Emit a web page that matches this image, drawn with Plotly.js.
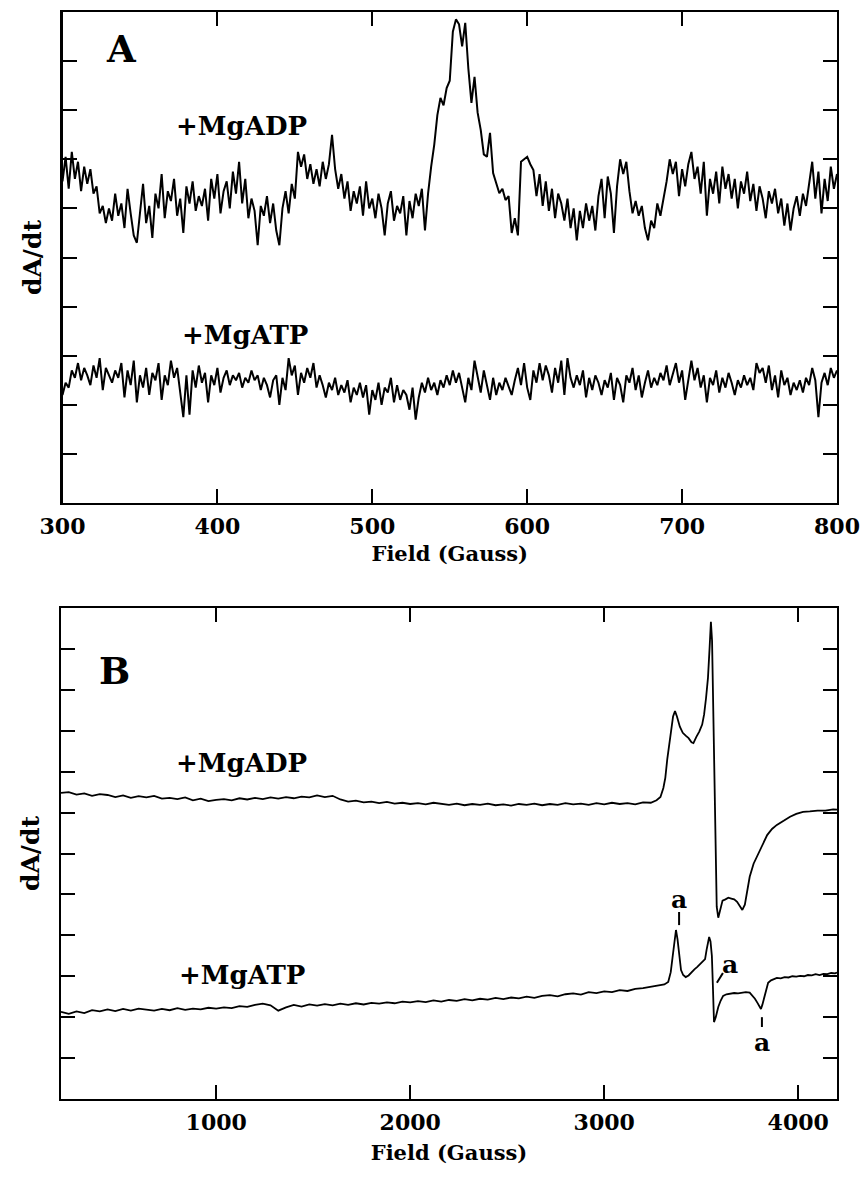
<!DOCTYPE html>
<html>
<head>
<meta charset="utf-8">
<script src="https://cdn.plot.ly/plotly-3.0.1.min.js"></script>
<style>html,body{margin:0;padding:0;background:#fff;}#chart{width:861px;height:1179px;}</style>
</head>
<body>
<div id="chart"></div>
<script>
// ---------- Panel A: field 300..800 G, sampled every 2 G ----------
const fieldA_start = 300;
const fieldA_step = 2;
const adpA = [
 6.55,7.05,6.40,7.15,6.60,6.95,6.35,6.85,6.50,6.80,
 6.30,6.45,5.90,6.05,5.70,6.00,5.75,6.30,5.85,6.10,
 5.60,6.40,5.90,5.45,5.30,5.95,6.50,5.70,6.05,5.40,
 6.30,6.00,6.70,5.80,6.35,6.15,6.60,5.85,6.20,5.50,
 6.45,6.10,6.55,5.95,6.25,6.05,6.40,5.75,6.60,6.20,
 6.70,5.90,6.35,6.55,6.00,6.75,6.30,6.95,6.10,6.60,
 5.80,6.20,5.95,5.25,6.05,5.85,6.25,5.70,6.10,5.55,
 5.25,6.00,6.35,5.90,6.50,6.20,7.15,6.85,7.10,6.60,
 6.90,6.50,6.80,6.45,6.95,6.60,6.90,7.50,6.80,6.40,
 6.70,6.20,6.55,5.95,6.35,6.10,6.45,5.85,6.55,6.00,
 6.20,5.80,6.30,6.00,5.45,6.10,6.35,5.75,6.05,5.90,
 6.25,5.45,6.15,5.80,6.30,6.05,6.40,5.55,6.30,6.85,
 7.30,7.90,8.25,8.10,8.45,8.60,9.60,9.85,9.75,9.30,
 9.78,8.85,8.15,8.68,7.95,7.60,7.10,7.05,7.54,6.72,
 6.50,6.31,6.40,6.17,6.25,5.50,5.80,5.45,6.95,7.00,
 7.05,6.90,6.78,6.25,6.70,6.05,6.55,5.95,6.40,5.80,
 6.30,6.10,5.75,6.20,5.60,6.00,5.35,5.95,5.60,6.10,
 5.75,6.05,5.55,6.25,6.60,5.80,6.65,6.30,5.50,6.45,
 7.00,6.70,6.95,6.35,5.90,6.15,5.85,6.05,5.60,5.35,
 5.75,5.60,6.10,5.85,6.20,6.55,7.00,6.70,6.95,6.25,
 6.80,6.45,6.90,7.15,6.60,6.85,6.30,6.95,5.85,6.60,
 6.30,6.75,6.10,6.85,6.40,6.70,6.20,6.60,6.00,6.55,
 6.30,6.75,6.15,6.50,5.95,6.45,6.20,5.80,6.35,6.10,
 6.40,5.90,6.20,5.65,6.10,5.55,6.00,6.25,5.85,6.30,
 6.05,6.50,6.95,6.20,6.75,5.90,6.60,6.15,6.85,6.40,
 6.70
];
const atpA = [
 2.20,2.45,2.35,2.70,2.55,2.85,2.50,2.75,2.60,2.40,
 2.80,2.55,2.95,2.30,2.75,2.60,2.45,2.70,2.55,2.85,
 2.15,2.70,2.40,2.90,2.05,2.60,2.35,2.75,2.20,2.65,
 2.50,2.85,2.10,2.60,2.40,2.90,2.55,2.75,2.30,1.75,
 2.60,1.80,2.70,2.35,2.80,2.45,2.65,2.05,2.60,2.40,
 2.75,2.25,2.55,2.70,2.40,2.60,2.50,2.65,2.35,2.55,
 2.45,2.70,2.50,2.60,2.30,2.55,2.40,2.15,2.50,2.60,
 2.00,2.55,2.30,2.95,2.60,2.80,2.20,2.65,2.45,2.75,
 2.55,2.85,2.35,2.60,2.40,2.15,2.45,2.30,2.55,2.20,
 2.40,2.25,2.50,2.05,2.35,2.20,2.45,2.15,2.40,1.80,
 2.30,2.10,2.45,2.00,2.35,2.25,2.55,2.05,2.40,2.10,
 2.30,2.20,1.90,2.35,1.70,2.15,2.45,2.25,2.55,2.30,
 2.45,2.20,2.50,2.35,2.60,2.40,2.70,2.45,2.65,2.35,
 2.05,2.55,2.30,2.90,2.60,2.25,2.70,2.40,2.10,2.55,
 2.20,2.45,2.30,2.55,2.35,2.20,2.50,2.75,2.40,2.85,
 2.35,2.10,2.70,2.45,2.85,2.50,2.80,2.60,2.25,2.75,
 2.45,2.90,2.20,2.95,2.55,2.35,2.60,2.40,2.70,2.15,
 2.55,2.30,2.60,2.45,2.20,2.50,2.35,2.65,2.10,2.55,
 2.40,2.05,2.60,2.45,2.75,2.30,2.60,2.15,2.45,2.70,
 2.35,2.55,2.40,2.65,2.50,2.80,2.40,2.60,2.85,2.45,
 2.70,2.10,2.55,2.90,2.50,2.75,2.35,2.60,2.05,2.55,
 2.40,2.70,2.25,2.55,2.35,2.65,2.45,2.20,2.50,2.35,
 2.60,2.40,2.55,2.30,2.85,2.65,2.75,2.45,2.80,2.30,
 2.60,2.15,2.70,2.40,2.55,2.20,2.45,2.30,2.50,2.25,
 2.55,2.40,2.75,2.50,1.75,2.45,2.65,2.40,2.75,2.55,
 2.70
];

// ---------- Panel B: field 200..4200 G ----------
const fieldB_adp = [
 200,240,280,320,360,400,440,480,520,560,600,640,680,720,760,800,840,880,920,960,
 1000,1040,1080,1120,1160,1200,1240,1280,1320,1360,1400,1440,1480,1520,1560,1600,1640,1680,1720,1760,
 1800,1840,1880,1920,1960,2000,2040,2080,2120,2160,2200,2240,2280,2320,2360,2400,2440,2480,2520,2560,
 2600,2640,2680,2720,2760,2800,2840,2880,2920,2960,3000,3040,3080,3120,3160,3200,3240,
 3270,3290,3305,3315,3325,3335,3345,3355,3365,3375,3390,3405,3420,3435,3450,3460,3475,3490,3505,3515,
 3525,3535,3543,3550,3556,3562,3568,3574,3580,3588,3598,3610,3625,3640,3655,3670,3685,3700,3712,3725,
 3740,3750,3770,3794,3815,3840,3865,3890,3925,3958,3990,4025,4060,4100,4140,4180,4200
];
const adpB = [
 7.48,7.50,7.44,7.47,7.41,7.45,7.43,7.38,7.42,7.36,7.40,7.37,7.41,7.34,7.36,7.33,7.37,7.30,7.34,7.28,
 7.31,7.33,7.30,7.35,7.32,7.36,7.33,7.37,7.34,7.38,7.35,7.39,7.37,7.42,7.38,7.41,7.32,7.27,7.29,7.25,
 7.27,7.23,7.26,7.22,7.24,7.21,7.23,7.20,7.24,7.21,7.19,7.22,7.18,7.21,7.19,7.22,7.18,7.20,7.17,7.21,
 7.19,7.22,7.18,7.21,7.19,7.23,7.20,7.22,7.19,7.23,7.20,7.24,7.21,7.23,7.20,7.25,7.24,
 7.30,7.38,7.60,7.85,8.30,8.70,9.05,9.35,9.48,9.35,9.10,8.95,8.88,8.82,8.72,8.70,8.85,8.98,9.15,9.40,
 9.80,10.30,11.00,11.66,11.20,9.50,7.40,5.80,4.70,4.43,4.65,4.85,4.88,4.92,4.90,4.88,4.82,4.70,4.62,4.75,
 5.15,5.43,5.75,6.00,6.20,6.45,6.60,6.70,6.80,6.90,6.97,7.02,7.03,7.05,7.05,7.08,7.07
];
const fieldB_atp = [
 200,240,280,320,360,400,440,480,520,560,600,640,680,720,760,800,840,880,920,960,
 1000,1040,1080,1120,1160,1200,1240,1280,1320,1360,1400,1440,1480,1520,1560,1600,1640,1680,1720,1760,
 1800,1840,1880,1920,1960,2000,2040,2080,2120,2160,2200,2240,2280,2320,2360,2400,2440,2480,2520,2560,
 2600,2640,2680,2720,2760,2800,2840,2880,2920,2960,3000,3040,3080,3120,3160,3200,3240,
 3280,3310,3330,3343,3352,3362,3370,3378,3386,3396,3407,3420,3435,3450,3465,3480,3495,3510,3520,3528,
 3535,3541,3548,3555,3560,3566,3575,3588,3600,3613,3630,3650,3670,3690,3710,3730,3750,3765,3777,3790,
 3800,3808,3815,3825,3835,3845,3860,3875,3890,3910,3930,3950,3970,3990,4010,4030,4050,4070,4090,4110,
 4130,4150,4170,4190,4200
];
const atpB = [
 2.13,2.08,2.14,2.10,2.17,2.14,2.19,2.15,2.20,2.16,2.21,2.18,2.16,2.20,2.17,2.22,2.18,2.21,2.19,2.23,
 2.21,2.24,2.22,2.27,2.25,2.30,2.33,2.29,2.16,2.24,2.30,2.26,2.31,2.28,2.32,2.29,2.33,2.30,2.34,2.31,
 2.35,2.33,2.36,2.34,2.38,2.36,2.39,2.37,2.41,2.38,2.42,2.40,2.44,2.41,2.45,2.43,2.47,2.44,2.48,2.46,
 2.50,2.47,2.52,2.54,2.51,2.56,2.58,2.55,2.61,2.59,2.63,2.61,2.66,2.64,2.69,2.71,2.74,
 2.76,2.80,2.86,3.10,3.45,3.90,4.13,3.90,3.50,3.15,3.03,2.98,3.02,3.10,3.17,3.23,3.30,3.36,3.42,3.65,
 3.88,3.96,3.85,3.50,2.80,1.88,2.00,2.25,2.40,2.52,2.56,2.57,2.59,2.58,2.60,2.61,2.60,2.52,2.45,2.35,
 2.26,2.20,2.30,2.50,2.70,2.84,2.90,2.94,2.96,2.95,2.98,2.97,3.00,2.99,3.01,3.00,3.03,3.02,3.05,3.03,
 3.06,3.05,3.08,3.07,3.09
];

// tick labels
const ticksA = [300,400,500,600,700,800];
const ticksB = [1000,2000,3000,4000];

// "a" markers in panel B: field and value of the letter
const aMarkField = [3386, 3650, 3813];
const aMarkVal = [4.87, 3.28, 1.39];

const FONT = 'DejaVu Serif, Liberation Serif, serif';
const W = 861, H = 1179;
const px = v => v / W, py = v => 1 - v / H;

const traces = [
  {x0: fieldA_start, dx: fieldA_step, y: adpA, xaxis:'x', yaxis:'y', mode:'lines', line:{color:'#000', width:2}, name:'+MgADP', showlegend:false, hoverinfo:'skip'},
  {x0: fieldA_start, dx: fieldA_step, y: atpA, xaxis:'x', yaxis:'y', mode:'lines', line:{color:'#000', width:2}, name:'+MgATP', showlegend:false, hoverinfo:'skip'},
  {x: fieldB_adp, y: adpB, xaxis:'x2', yaxis:'y2', mode:'lines', line:{color:'#000', width:1.8}, name:'+MgADP', showlegend:false, hoverinfo:'skip'},
  {x: fieldB_atp, y: atpB, xaxis:'x2', yaxis:'y2', mode:'lines', line:{color:'#000', width:1.8}, name:'+MgATP', showlegend:false, hoverinfo:'skip'}
];

const axCommon = {
  showline:true, linecolor:'#000', linewidth:2.2, mirror:'ticks',
  ticks:'inside', ticklen:14, tickwidth:2, tickcolor:'#000',
  showgrid:false, zeroline:false, fixedrange:true, automargin:false,
  ticklabelstandoff:2,
  tickfont:{family:FONT, size:22, color:'#000', weight:'bold'}
};
const titleFont = {family:FONT, size:21, color:'#000', weight:'bold'};
const yTitleFont = {family:FONT, size:25, color:'#000', weight:'bold'};
const lblFont = {family:FONT, size:26, color:'#000', weight:'bold'};
const bigFont = {family:FONT, size:37, color:'#000', weight:'bold'};

const layout = {
  width:W, height:H,
  margin:{l:0, r:0, t:0, b:0},
  paper_bgcolor:'#fff', plot_bgcolor:'#fff',
  showlegend:false,
  font:{family:FONT, color:'#000'},
  xaxis: Object.assign({}, axCommon, {domain:[px(62.5), px(837)], range:[300,800], tickvals:ticksA, ticktext:ticksA.map(String), anchor:'y',
    title:{text:'Field (Gauss)', font:titleFont, standoff:9}}),
  yaxis: Object.assign({}, axCommon, {domain:[py(503), py(12)], range:[0,10], dtick:1, tick0:0, showticklabels:false, anchor:'x',
    title:{text:'dA/dt', font:yTitleFont, standoff:12}}),
  xaxis2: Object.assign({}, axCommon, {domain:[px(61), px(837)], range:[200,4200], tickvals:ticksB, ticktext:ticksB.map(String), anchor:'y2',
    title:{text:'Field (Gauss)', font:titleFont, standoff:12}}),
  yaxis2: Object.assign({}, axCommon, {domain:[py(1099), py(608)], range:[0,12], dtick:1, tick0:0, showticklabels:false, anchor:'x2',
    title:{text:'dA/dt', font:yTitleFont, standoff:12}}),
  annotations: [
    {xref:'x', yref:'y', x:338, y:9.25, text:'A', showarrow:false, xanchor:'center', yanchor:'middle', font:bigFont},
    {xref:'x', yref:'y', x:372, y:7.68, text:'+MgADP', showarrow:false, xanchor:'left', yanchor:'middle', font:lblFont},
    {xref:'x', yref:'y', x:376, y:3.42, text:'+MgATP', showarrow:false, xanchor:'left', yanchor:'middle', font:lblFont},
    {xref:'x2', yref:'y2', x:478, y:10.46, text:'B', showarrow:false, xanchor:'center', yanchor:'middle', font:bigFont},
    {xref:'x2', yref:'y2', x:785, y:8.22, text:'+MgADP', showarrow:false, xanchor:'left', yanchor:'middle', font:lblFont},
    {xref:'x2', yref:'y2', x:800, y:3.03, text:'+MgATP', showarrow:false, xanchor:'left', yanchor:'middle', font:lblFont}
  ].concat(aMarkField.map((f, i) => ({xref:'x2', yref:'y2', x:f, y:aMarkVal[i], text:'a', showarrow:false, xanchor:'center', yanchor:'middle',
      font:{family:FONT, size:25, color:'#000', weight:'bold'}}))),
  shapes: [
    {type:'line', xref:'x2', yref:'y2', x0:3386, x1:3386, y0:4.25, y1:4.57, line:{color:'#000', width:2}},
    {type:'line', xref:'x2', yref:'y2', x0:3581, x1:3612, y0:2.84, y1:3.08, line:{color:'#000', width:2}},
    {type:'line', xref:'x2', yref:'y2', x0:3813, x1:3813, y0:1.76, y1:2.0, line:{color:'#000', width:2}}
  ]
};

Plotly.newPlot('chart', traces, layout, {staticPlot:true, displayModeBar:false});
</script>
</body>
</html>
